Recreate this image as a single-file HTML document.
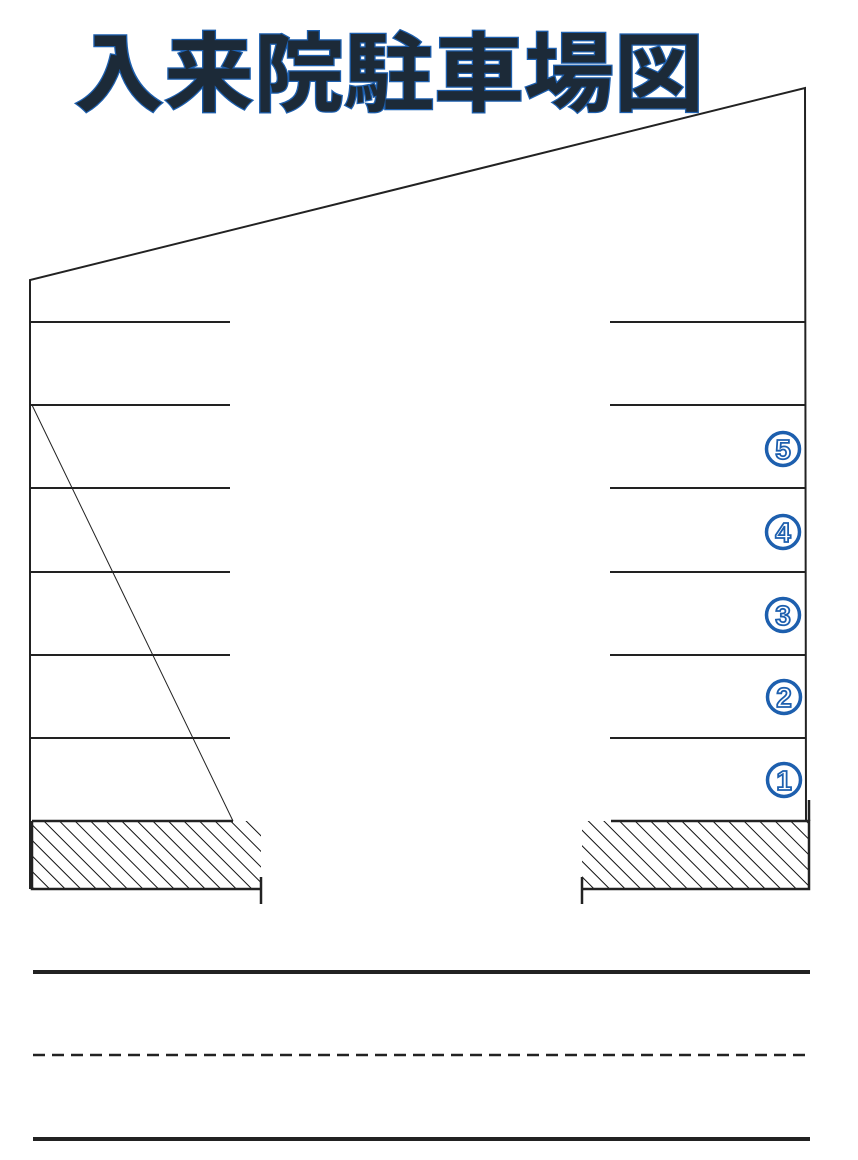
<!DOCTYPE html>
<html><head><meta charset="utf-8"><style>html,body{margin:0;padding:0;background:#fff}svg{display:block}</style></head>
<body>
<svg width="858" height="1160" viewBox="0 0 858 1160" xmlns="http://www.w3.org/2000/svg">
<defs>
<pattern id="h" patternUnits="userSpaceOnUse" width="11" height="11" patternTransform="rotate(-45)">
<line x1="0" y1="0" x2="0" y2="11" stroke="#111" stroke-width="2"/>
</pattern>
</defs>
<text x="74" y="104" font-family="'Liberation Sans','Noto Sans CJK JP',sans-serif" font-weight="bold" font-size="86" textLength="630" lengthAdjust="spacingAndGlyphs" fill="#1c2a38" stroke="#1d5fae" stroke-width="2.5" paint-order="stroke">入来院駐車場図</text>
<g stroke="#222" fill="none" stroke-width="2">
<polyline points="30,889 30,280 805,88 806,820"/>
<line x1="30" y1="322" x2="230" y2="322"/><line x1="30" y1="405" x2="230" y2="405"/><line x1="30" y1="488" x2="230" y2="488"/><line x1="30" y1="572" x2="230" y2="572"/><line x1="30" y1="655" x2="230" y2="655"/><line x1="30" y1="738" x2="230" y2="738"/>
<line x1="610" y1="322" x2="806" y2="322"/><line x1="610" y1="405" x2="806" y2="405"/><line x1="610" y1="488" x2="806" y2="488"/><line x1="610" y1="572" x2="806" y2="572"/><line x1="610" y1="655" x2="806" y2="655"/><line x1="610" y1="738" x2="806" y2="738"/>
</g>
<line x1="32" y1="405" x2="233" y2="821" stroke="#222" stroke-width="1"/>
<rect x="32" y="821" width="229" height="68" fill="url(#h)"/>
<rect x="582" y="821" width="227" height="68" fill="url(#h)"/>
<g stroke="#222" fill="none" stroke-width="2.5">
<polyline points="32,821 32,889 261,889"/><line x1="32" y1="821" x2="233" y2="821"/>
<line x1="261" y1="877" x2="261" y2="904"/>
<polyline points="611,821 809,821 809,889 582,889"/><line x1="809" y1="800" x2="809" y2="821"/>
<line x1="582" y1="877" x2="582" y2="904"/>
</g>
<g stroke="#222">
<line x1="33" y1="972" x2="810" y2="972" stroke-width="4"/>
<line x1="33" y1="1055" x2="810" y2="1055" stroke-width="2.5" stroke-dasharray="12,7"/>
<line x1="33" y1="1139" x2="810" y2="1139" stroke-width="4"/>
</g>
<g font-family="'Liberation Sans',sans-serif" font-weight="bold" font-size="28" text-anchor="middle" fill="#fff" stroke="#1d5fae" stroke-width="1.8">
<circle cx="783" cy="449" r="16.5" fill="#fff" stroke-width="3.5"/><text x="783" y="459">5</text>
<circle cx="783" cy="532" r="16.5" fill="#fff" stroke-width="3.5"/><text x="783" y="542">4</text>
<circle cx="783" cy="615" r="16.5" fill="#fff" stroke-width="3.5"/><text x="783" y="625">3</text>
<circle cx="784" cy="697" r="16.5" fill="#fff" stroke-width="3.5"/><text x="784" y="707">2</text>
<circle cx="784" cy="780" r="16.5" fill="#fff" stroke-width="3.5"/><text x="784" y="790">1</text>
</g>
</svg>
</body></html>
